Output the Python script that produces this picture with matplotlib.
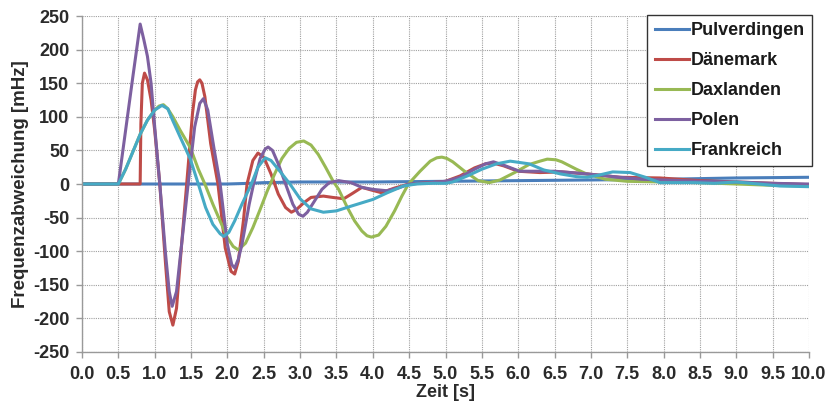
import matplotlib
matplotlib.use('Agg')
import matplotlib.pyplot as plt
import numpy as np

# Frequenzabweichung [mHz] over Zeit [s]
t_pulv = [0.0, 2.0, 2.3, 2.5, 3.0, 4.0, 5.0, 6.0, 7.0, 8.0, 9.0, 10.0]
v_pulv = [0, 0, 1, 2, 3, 3, 4, 5, 6, 7, 9, 10]

t_daen = [0.0, 0.8, 0.81, 0.83, 0.86, 0.9, 0.95, 1.0, 1.07, 1.15, 1.2, 1.25, 1.3,
          1.37, 1.44, 1.52, 1.56, 1.59, 1.62, 1.65, 1.69, 1.77, 1.87, 1.97, 2.05,
          2.1, 2.15, 2.22, 2.27, 2.35, 2.42, 2.5, 2.6, 2.7, 2.8, 2.88, 2.95, 3.05,
          3.15, 3.32, 3.45, 3.6, 3.72, 3.85, 3.98, 4.12, 4.3, 4.5, 4.8, 5.0, 5.2,
          5.4, 5.55, 5.66, 5.8, 6.0, 6.3, 6.6, 6.95, 7.4, 7.95, 8.5, 9.0, 9.5, 10.0]
v_daen = [0, 0, 90, 150, 165, 155, 125, 80, 0, -120, -190, -210, -185,
          -90, 0, 105, 140, 152, 155, 150, 130, 60, 0, -95, -130,
          -134, -115, -55, 0, 35, 46, 40, 15, -15, -35, -42, -38, -28,
          -20, -18, -20, -22, -14, -5, -9, -13, -6, 0, 2, 4, 12,
          24, 30, 31, 27, 19, 17, 18, 15, 10, 9, 5, 3, 1, -1]

t_dax = [0.0, 0.5, 0.6, 0.7, 0.8, 0.9, 1.0, 1.06, 1.12, 1.18, 1.25, 1.35, 1.49,
         1.6, 1.69, 1.8, 1.9, 2.0, 2.08, 2.15, 2.25, 2.35, 2.45, 2.55, 2.65, 2.75,
         2.85, 2.95, 3.05, 3.15, 3.25, 3.35, 3.45, 3.53, 3.65, 3.75, 3.85, 3.92,
         3.98, 4.08, 4.18, 4.3, 4.4, 4.49, 4.65, 4.79, 4.88, 4.95, 5.02, 5.1,
         5.25, 5.45, 5.6, 5.75, 5.95, 6.15, 6.3, 6.4, 6.52, 6.6, 6.8, 6.94, 7.2,
         7.5, 8.0, 8.5, 9.0, 9.5, 10.0]
v_dax = [0, 0, 22, 48, 74, 95, 110, 116, 118, 112, 100, 80, 54,
         22, 0, -30, -55, -80, -93, -98, -88, -65, -38, -10, 15, 38,
         53, 62, 64, 58, 44, 25, 5, -8, -35, -55, -70, -77,
         -79, -76, -63, -40, -18, 0, 19, 34, 39, 40, 38, 33,
         20, 5, 2, 6, 17, 29, 34, 37, 36, 33, 22, 15, 7,
         4, 3, 2, 0, -2, -3]

t_polen = [0.0, 0.5, 0.6, 0.7, 0.8, 0.85, 0.9, 0.95, 1.0, 1.07, 1.15, 1.2, 1.24,
           1.3, 1.38, 1.46, 1.55, 1.62, 1.67, 1.73, 1.82, 1.9, 2.0, 2.06, 2.1, 2.15,
           2.2, 2.3, 2.36, 2.45, 2.52, 2.56, 2.62, 2.7, 2.8, 2.9, 2.98, 3.04, 3.1,
           3.2, 3.3, 3.4, 3.53, 3.7, 3.85, 4.0, 4.19, 4.35, 4.5, 4.8, 5.0, 5.2, 5.4,
           5.55, 5.66, 5.8, 6.02, 6.5, 6.95, 7.4, 7.7, 8.0, 8.5, 9.0, 9.5, 10.0]
v_polen = [0, 0, 80, 160, 238, 215, 190, 150, 85, 0, -105, -160, -182,
           -160, -80, 0, 85, 120, 127, 110, 50, 0, -90, -120, -125, -112,
           -90, -30, 0, 38, 52, 55, 50, 30, 0, -30, -45, -48, -42,
           -25, -8, 2, 5, 2, -5, -8, -10, -6, 0, 2, 4, 10, 22,
           30, 33, 28, 19, 19, 15, 10, 7, 6, 4, 3, 1, 0]

t_frank = [0.0, 0.5, 0.6, 0.7, 0.8, 0.9, 1.0, 1.1, 1.18, 1.25, 1.35, 1.49, 1.6,
           1.7, 1.8, 1.9, 1.95, 2.02, 2.1, 2.2, 2.33, 2.42, 2.52, 2.6, 2.7, 2.86,
           3.0, 3.15, 3.32, 3.5, 3.7, 4.0, 4.2, 4.42, 4.6, 4.8, 5.0, 5.1, 5.3, 5.5,
           5.7, 5.89, 6.15, 6.35, 6.58, 6.8, 6.95, 7.1, 7.3, 7.54, 7.75, 7.95, 8.41,
           8.7, 9.0, 9.3, 9.6, 10.0]
v_frank = [0, 0, 22, 48, 74, 95, 110, 117, 112, 94, 70, 37, 0,
           -35, -60, -74, -78, -72, -55, -30, 0, 25, 39, 35, 22, 0,
           -22, -37, -42, -40, -33, -23, -13, -3, 0, 1, 1, 3, 12, 22,
           30, 34, 30, 21, 15, 11, 10, 13, 18, 17, 10, 2, 2,
           1, 3, 0, -3, -4]

labels = ['Pulverdingen', 'Dänemark', 'Daxlanden', 'Polen', 'Frankreich']
colors = ['#4A7EBB', '#BE4B48', '#98B954', '#7D60A0', '#46AAC5']

series = [(t_pulv, v_pulv), (t_daen, v_daen), (t_dax, v_dax),
          (t_polen, v_polen), (t_frank, v_frank)]

plt.rcParams['font.family'] = ['Liberation Sans', 'DejaVu Sans']
plt.rcParams['font.weight'] = 'bold'
plt.rcParams['axes.unicode_minus'] = False

fig = plt.figure(figsize=(8.32, 4.07), dpi=100)
ax = fig.add_axes([82 / 832, 1 - 352 / 407, 727 / 832, 336 / 407])

for (t, v), lab, col in zip(series, labels, colors):
    ax.plot(t, v, color=col, lw=2.2, label=lab, solid_joinstyle='round')

ax.set_xlim(0, 10)
ax.set_ylim(-250, 250)
xt = np.arange(0, 10.01, 0.5)
ax.set_xticks(xt)
ax.set_xticklabels([f'{x:.1f}' for x in xt])
ax.set_yticks(np.arange(-250, 251, 50))

ax.grid(True, color='#a0a0a0', lw=0.8, ls=(0, (1, 1)))
ax.set_axisbelow(True)
for s in ['top', 'right']:
    ax.spines[s].set_visible(False)
for s in ['left', 'bottom']:
    ax.spines[s].set_color('#999999')
    ax.spines[s].set_linewidth(1)

ax.tick_params(axis='both', colors='#999999', labelcolor='#2a2a2a',
               labelsize=13, length=4, width=1)
ax.tick_params(axis='x', pad=6)
ax.tick_params(axis='y', pad=5)

ax.set_xlabel('Zeit [s]', fontsize=13, fontweight='bold', color='#2a2a2a', labelpad=1)
ax.set_ylabel('Frequenzabweichung [mHz]', fontsize=13.5, fontweight='bold',
              color='#2a2a2a', labelpad=3)

leg = ax.legend(loc='upper right', bbox_to_anchor=(812 / 832, 1 - 15 / 407),
                bbox_transform=fig.transFigure, fancybox=False, framealpha=1,
                edgecolor='#333333', fontsize=13, handlelength=1.9,
                handletextpad=0.1, labelspacing=0.72, borderpad=0.4,
                borderaxespad=0)
leg.get_frame().set_linewidth(1)
for txt in leg.get_texts():
    txt.set_color('#1a1a1a')

fig.savefig('out.png', dpi=100)
